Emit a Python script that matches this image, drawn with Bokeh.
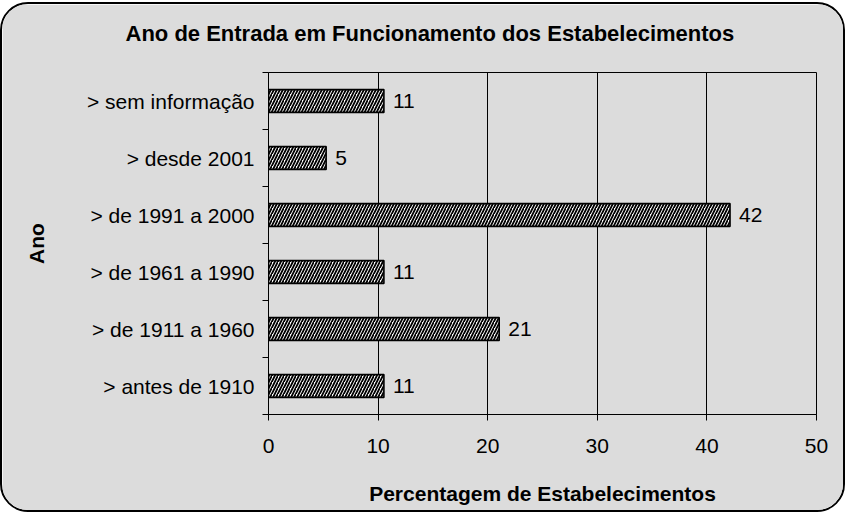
from bokeh.plotting import figure
from bokeh.models import FixedTicker, Range1d, ColumnDataSource
from bokeh.embed import file_html
from bokeh.resources import INLINE
from bokeh.core.properties import value

# ---- data ----
categories = [
    "> antes de 1910",
    "> de 1911 a 1960",
    "> de 1961 a 1990",
    "> de 1991 a 2000",
    "> desde 2001",
    "> sem informação",
]
percentages = [10.53, 21.05, 10.53, 42.11, 5.26, 10.53]
value_labels = ["11", "21", "11", "42", "5", "11"]
x_ticks = [0, 10, 20, 30, 40, 50]

title_text = "Ano de Entrada em Funcionamento dos Estabelecimentos"
x_title = "Percentagem de Estabelecimentos"
y_title = "Ano"

FONT = "Liberation Sans"
BG = "#dcdcdc"

positions = [i + 0.5 for i in range(len(categories))]
boundaries = [float(i) for i in range(len(categories) + 1)]
source = ColumnDataSource(dict(y=positions, right=percentages, label=value_labels))

p = figure(
    width=845, height=510,
    x_range=Range1d(0, 50), y_range=Range1d(0, len(categories)),
    output_backend="svg", toolbar_location=None,
    min_border_left=266, min_border_right=31,
    min_border_top=68, min_border_bottom=100,
    background_fill_color=BG, border_fill_color=BG,
    outline_line_color="black", outline_line_width=1,
)
p.styles = {
    "border": "2px solid black",
    "border-radius": "28px",
    "overflow": "hidden",
    "margin-top": "2px",
}

# bars
p.hbar(y="y", right="right", left=0, height=0.4, source=source,
       fill_color="white", line_color="black", line_width=1.6,
       hatch_pattern="/", hatch_color="black", hatch_scale=6, hatch_weight=1.8)

# value labels
p.text(x="right", y="y", text="label", source=source, x_offset=9,
       text_baseline="middle", text_align="left",
       text_font=value(FONT), text_font_size="21px", text_color="black")

# title (centred on the whole chart box, as in the reference)
p.title.text = title_text
p.title.text_font = FONT
p.title.text_font_size = "22px"
p.title.text_font_style = "bold"
p.title.text_color = "black"
p.title.align = "left"
p.title.offset = -143
p.title.standoff = 0
p.title.padding = dict(left=0, right=0, top=0, bottom=27)

# x axis
xa = p.xaxis[0]
xa.ticker = FixedTicker(ticks=x_ticks)
xa.axis_label = x_title
xa.axis_label_text_font = FONT
xa.axis_label_text_font_size = "21px"
xa.axis_label_text_font_style = "bold"
xa.axis_label_text_color = "black"
xa.axis_label_standoff = 26
xa.major_label_text_font = FONT
xa.major_label_text_font_size = "21px"
xa.major_label_text_color = "black"
xa.major_label_standoff = 18
xa.major_tick_out = 6
xa.major_tick_in = 0
xa.minor_tick_line_color = None
xa.axis_line_color = "black"
xa.major_tick_line_color = "black"

# y axis
ya = p.yaxis[0]
ya.ticker = FixedTicker(ticks=positions, minor_ticks=boundaries)
ya.major_label_overrides = {pos: lab for pos, lab in zip(positions, categories)}
ya.axis_label = y_title
ya.axis_label_text_font = FONT
ya.axis_label_text_font_size = "21px"
ya.axis_label_text_font_style = "bold"
ya.axis_label_text_color = "black"
ya.axis_label_standoff = 36
ya.major_label_text_font = FONT
ya.major_label_text_font_size = "21px"
ya.major_label_text_color = "black"
ya.major_label_standoff = 8
ya.major_tick_out = 0
ya.major_tick_in = 0
ya.minor_tick_out = 6
ya.minor_tick_in = 0
ya.minor_tick_line_color = "black"
ya.axis_line_color = "black"

# grid
p.xgrid.ticker = FixedTicker(ticks=x_ticks)
p.xgrid.grid_line_color = "black"
p.xgrid.grid_line_width = 1
p.ygrid.visible = False

open("out.html", "w").write(file_html(p, INLINE))
